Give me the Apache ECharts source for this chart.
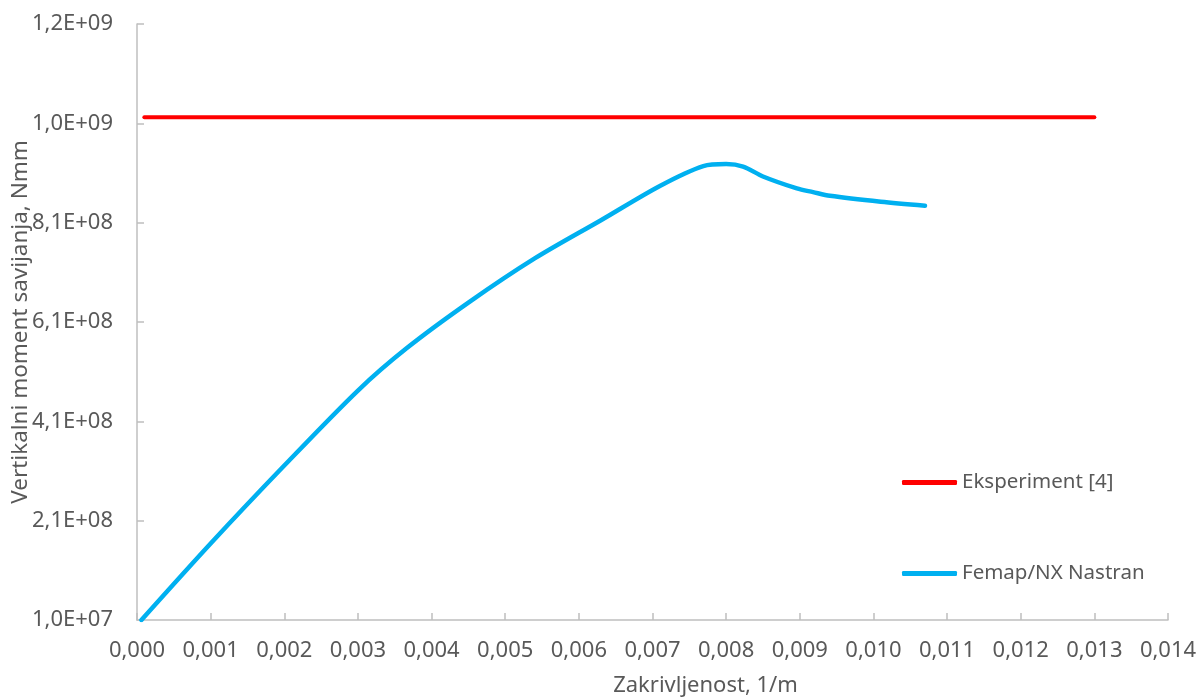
<!DOCTYPE html>
<html>
<head>
<meta charset="utf-8">
<script src="https://cdn.jsdelivr.net/npm/echarts@6/dist/echarts.min.js"></script>
<style>html,body{margin:0;padding:0;background:#fff;}#c{width:1197px;height:700px;}</style>
</head>
<body>
<div id="c"></div>
<script>
// Data
const seriesNames = ['Eksperiment [4]', 'Femap/NX Nastran'];
const expX = [0.0001, 0.0130];
const expY = [1.022e9, 1.022e9];
const femX = [0.00006, 0.0010, 0.0020, 0.0030, 0.00366, 0.0045, 0.0054, 0.0063, 0.0071, 0.00769, 0.0080, 0.00823, 0.00850, 0.00896, 0.00918, 0.00941, 0.0101, 0.0107];
const femY = [1.0e7, 1.64e8, 3.21e8, 4.72e8, 5.57e8, 6.49e8, 7.38e8, 8.15e8, 8.84e8, 9.24e8, 9.28e8, 9.23e8, 9.03e8, 8.79e8, 8.715e8, 8.64e8, 8.52e8, 8.44e8];
const yTickStart = 1e7;   // first y tick value (1,0E+07)
const yTickStep = 2e8;    // tick spacing
const yTickTop = 1.21e9;  // last y tick (1,2E+09)
const xMin = 0, xMax = 0.014, xStep = 0.001;

const OFFSET = yTickStart;
function sci(v) {
  const s = v.toExponential(1);
  const parts = s.split('e');
  let m = parts[0].replace('.', ',');
  let e = parseInt(parts[1], 10);
  const sign = e < 0 ? '-' : '+';
  e = Math.abs(e);
  return m + 'E' + sign + (e < 10 ? '0' + e : '' + e);
}
const shift = (xs, ys) => xs.map((x, i) => [x, ys[i] - OFFSET]);

const font = 'Noto Sans';
const gray = '#595959';
const axisGray = '#bfbfbf';

const chart = echarts.init(document.getElementById('c'), null, {renderer: 'canvas'});
chart.setOption({
  animation: false,
  backgroundColor: '#ffffff',
  grid: {left: 137, right: 29, top: 24, bottom: 80, containLabel: false, outerBoundsMode: 'none'},
  xAxis: {
    type: 'value', min: xMin, max: xMax, interval: xStep,
    name: 'Zakrivljenost, 1/m', nameLocation: 'middle', nameGap: 55, nameMoveOverlap: false,
    nameTextStyle: {fontFamily: font, fontSize: 22, color: gray, padding: [0, 0, 0, 106]},
    axisLine: {show: true, lineStyle: {color: axisGray, width: 1.5}},
    axisTick: {show: true, inside: true, length: 7, lineStyle: {color: axisGray, width: 1.5}},
    splitLine: {show: false},
    axisLabel: {fontFamily: font, fontSize: 22, color: gray, margin: 20,
      formatter: v => v.toFixed(3).replace('.', ',')}
  },
  yAxis: {
    type: 'value', min: 0, max: yTickTop - OFFSET, interval: yTickStep,
    name: 'Vertikalni moment savijanja, Nmm', nameLocation: 'middle', nameGap: 105, nameRotate: 90,
    nameMoveOverlap: false,
    nameTextStyle: {fontFamily: font, fontSize: 22.5, color: gray},
    axisLine: {show: true, lineStyle: {color: axisGray, width: 1.5}},
    axisTick: {show: true, inside: true, length: 7, lineStyle: {color: axisGray, width: 1.5}},
    splitLine: {show: false},
    axisLabel: {fontFamily: font, fontSize: 22, color: gray, margin: 24,
      formatter: v => sci(v + OFFSET)}
  },
  legend: [
    {show: true, data: [seriesNames[0]], left: 897, top: 467, orient: 'vertical',
      icon: 'roundRect', itemWidth: 55, itemHeight: 5, itemGap: 5,
      textStyle: {fontFamily: font, fontSize: 20.5, color: gray}},
    {show: true, data: [seriesNames[1]], left: 897, top: 558, orient: 'vertical',
      icon: 'roundRect', itemWidth: 55, itemHeight: 5, itemGap: 5,
      textStyle: {fontFamily: font, fontSize: 20.5, color: gray}}
  ],
  series: [
    {name: seriesNames[0], type: 'line', data: shift(expX, expY), showSymbol: false, symbol: 'none',
      color: '#ff0000', lineStyle: {color: '#ff0000', width: 4, cap: 'round'}},
    {name: seriesNames[1], type: 'line', data: shift(femX, femY), showSymbol: false, symbol: 'none',
      smooth: 0.3, color: '#00b0f0', lineStyle: {color: '#00b0f0', width: 4.5, cap: 'round', join: 'round'}}
  ]
});
</script>
</body>
</html>
